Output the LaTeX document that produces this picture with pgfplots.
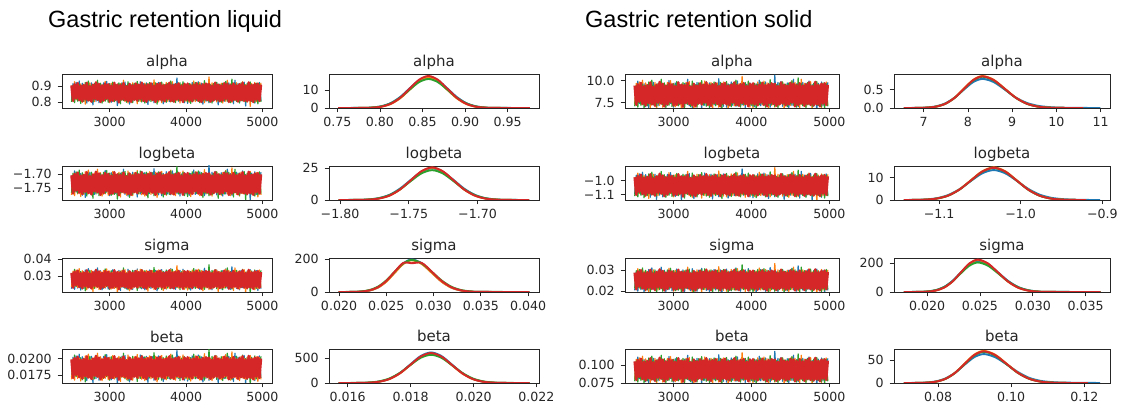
\documentclass[border=0pt]{standalone}
\usepackage{fontspec}
\setmainfont{DejaVu Sans}
\newfontfamily\headfont{Liberation Sans}
\usepackage{pgfplots}
\usepackage{pgfplotstable}
\pgfplotsset{compat=1.18}
\definecolor{tblue}{HTML}{1F77B4}
\definecolor{torange}{HTML}{FF7F0E}
\definecolor{tgreen}{HTML}{2CA02C}
\definecolor{tred}{HTML}{D62728}
\definecolor{axgray}{HTML}{262626}

% chain traces, in standard units (one table shared by the trace panels)
\pgfplotstableread{
x a b c d
2500 -2.1 1.8 -2.6 1.9
2520 2.4 -2.2 2.0 -2.3
2540 -1.9 2.9 -2.8 2.2
2560 2.7 -2.0 1.7 -1.6
2580 -2.2 2.5 -2.4 2.5
2600 3.1 -1.9 2.2 -2.1
2620 -1.8 2.3 -3.0 1.8
2640 2.5 -2.7 1.9 -2.4
2660 -2.3 2.1 -2.5 2.0
2680 2.0 -3.2 2.7 -1.9
2700 -2.9 2.4 -2.1 2.6
2720 2.2 -1.8 3.1 -2.2
2740 -1.7 2.6 -2.3 1.7
2760 2.6 -2.2 2.0 -2.5
2780 -3.4 2.0 -2.6 2.1
2800 2.1 -2.5 2.4 -1.8
2820 -2.4 2.8 -1.9 2.7
2840 1.9 -2.1 3.3 -2.0
2860 -2.8 2.3 -2.2 2.3
2880 2.3 -2.6 2.5 -2.6
2900 -2.0 1.9 -2.9 1.9
2920 2.6 -2.4 2.1 -2.2
2940 -2.2 3.0 -2.4 2.4
2960 3.0 -2.0 1.8 -1.7
2980 -1.9 2.2 -2.7 2.2
3000 2.4 -2.8 2.3 -2.4
3020 -2.7 2.5 -2.0 1.8
3040 2.1 -1.9 2.8 -2.3
3060 -2.5 2.7 -2.5 2.6
3080 1.8 -2.3 2.2 -2.0
3100 -3.6 2.0 -1.9 2.1
3120 2.3 -2.6 2.6 -2.7
3140 -2.2 2.4 -3.1 2.0
3160 2.6 -2.1 2.4 -1.9
3180 -1.9 3.3 -2.2 2.5
3200 2.8 -2.5 2.0 -2.1
3220 -2.1 1.8 -2.7 1.7
3240 2.4 -2.9 2.9 -2.4
3260 -3.2 2.2 -2.3 2.3
3280 2.0 -2.4 2.1 -2.6
3300 -2.5 2.6 -2.8 1.9
3320 2.2 -2.0 2.5 -2.0
3340 -1.8 2.3 -2.0 2.4
3360 2.7 -3.1 3.0 -2.2
3380 -2.3 2.1 -2.4 2.1
3400 2.9 -2.4 2.2 -1.8
3420 -2.1 2.8 -2.6 2.6
3440 2.4 -2.2 1.9 -2.3
3460 -2.0 2.5 -2.9 2.0
3480 2.6 -2.7 2.3 -2.5
3500 -3.3 1.9 -2.1 2.2
3520 2.2 -2.3 2.7 -1.9
3540 -1.9 2.6 -2.5 2.4
3560 2.5 -2.0 2.0 -2.1
3580 -2.8 3.4 -2.3 1.8
3600 2.1 -2.2 2.6 -2.6
3620 -2.3 2.4 -3.2 2.3
3640 2.7 -2.6 2.2 -2.0
3660 -2.0 2.1 -2.0 2.5
3680 2.4 -2.8 2.8 -2.2
3700 -3.1 2.3 -2.4 1.9
3720 1.8 -1.9 2.1 -2.4
3740 -2.6 2.7 -2.7 2.1
3760 2.2 -2.4 2.4 -1.8
3780 -2.5 2.0 -2.1 2.6
3800 2.9 -2.6 3.1 -2.3
3820 -2.1 2.9 -2.5 2.0
3840 2.3 -2.1 2.0 -2.5
3860 -1.9 2.4 -2.8 2.2
3880 3.9 -2.3 2.3 -1.9
3900 -2.4 2.6 -2.2 2.4
3920 2.0 -2.9 2.6 -2.1
3940 -2.2 2.2 -2.0 1.8
3960 2.6 -2.0 2.9 -2.6
3980 -2.8 2.5 -2.4 2.3
4000 2.1 -2.4 2.1 -2.0
4020 -3.0 2.1 -2.6 2.4
4040 2.4 -2.7 2.4 -2.2
4060 -2.2 2.3 -3.0 1.9
4080 2.7 -2.2 2.2 -2.4
4100 -1.8 3.1 -2.3 2.1
4120 2.6 -2.5 2.7 -1.8
4140 -2.3 2.0 -2.1 2.5
4160 2.9 -2.3 2.5 -2.3
4180 -2.0 2.7 -2.8 2.0
4200 2.5 -2.1 2.0 -2.6
4220 -3.2 2.4 -2.4 2.2
4240 2.1 -2.8 3.2 -1.9
4260 -2.4 2.2 -2.2 2.4
4280 2.2 -2.0 2.3 -2.1
4300 -2.8 4.2 -2.6 2.3
4320 1.9 -2.4 2.1 -2.5
4340 -2.6 2.6 -2.9 1.8
4360 2.3 -2.2 2.4 -2.2
4380 -2.0 2.8 -2.0 2.6
4400 2.7 -2.6 2.7 -2.0
4420 -3.4 2.1 -2.3 2.1
4440 2.2 -2.3 2.2 -2.4
4460 -2.5 2.5 -2.7 1.9
4480 2.1 -2.9 2.5 -2.2
4500 -2.4 2.0 -2.1 2.5
4520 2.9 -2.4 3.0 -1.8
4540 -1.8 3.3 -2.4 2.3
4560 2.6 -2.1 2.1 -2.6
4580 -2.3 2.3 -2.8 2.0
4600 2.0 -2.7 3.6 -2.3
4620 -3.1 2.2 -2.2 2.4
4640 3.3 -2.0 2.3 -2.0
4660 -2.2 2.6 -2.5 1.9
4680 2.4 -2.5 2.0 -2.5
4700 -2.7 2.4 -2.9 2.2
4720 2.1 -2.2 2.6 -2.1
4740 -2.0 2.9 -2.3 2.6
4760 2.8 -2.3 2.2 -2.3
4780 -3.7 2.1 -2.6 1.8
4800 2.3 -2.6 2.4 -2.4
4820 -2.1 2.0 -2.1 2.7
4840 2.5 -3.8 2.8 -2.2
4860 -2.4 2.4 -2.4 2.0
4880 2.0 -2.2 2.1 -2.6
4900 -2.9 2.7 -2.7 2.3
4920 2.2 -2.5 2.5 -2.0
4940 -2.6 2.3 -3.1 2.4
4960 2.7 -2.1 2.3 -2.3
4980 -2.3 2.6 -2.6 2.1
}\noise

% densities: x, blue, orange, green, red
\pgfplotstableread{
x b o g r
0.751 0 0 0 0
0.780 0.07 0.04 0.06 0.04
0.791 0.29 0.19 0.28 0.20
0.802 1.02 0.75 0.96 0.79
0.813 2.84 2.30 2.66 2.44
0.824 6.27 5.52 5.88 5.84
0.835 11.06 10.31 10.36 10.92
0.846 15.53 15.00 14.55 15.89
0.857 17.4 17.0 16.3 18.0
0.868 15.53 15.00 14.55 15.89
0.879 11.06 10.31 10.36 10.92
0.890 6.27 5.52 5.88 5.84
0.901 2.84 2.30 2.66 2.44
0.912 1.02 0.75 0.96 0.79
0.923 0.29 0.19 0.28 0.20
0.934 0.07 0.04 0.06 0.04
0.976 0 0 0 0
}\dA
\pgfplotstableread{
x b o g r
-1.801 0 0 0 0
-1.7873 0.10 0.06 0.09 0.06
-1.7795 0.42 0.28 0.40 0.29
-1.7718 1.47 1.12 1.38 1.13
-1.7640 4.08 3.45 3.83 3.48
-1.7563 9.02 8.28 8.47 8.34
-1.7485 15.89 15.47 14.93 15.59
-1.7408 22.32 22.50 20.98 22.68
-1.7330 25.0 25.5 23.5 25.7
-1.7253 22.32 22.50 20.98 22.68
-1.7175 15.89 15.47 14.93 15.59
-1.7098 9.02 8.28 8.47 8.34
-1.7020 4.08 3.45 3.83 3.48
-1.6943 1.47 1.12 1.38 1.13
-1.6865 0.42 0.28 0.40 0.29
-1.6788 0.10 0.06 0.09 0.06
-1.6624 0 0 0 0
}\dB
\pgfplotstableread{
x b o g r
0.01995 0 0 0 0
0.0214 0.44 0.43 0.76 0.5
0.0223 2.21 2.15 3.31 2.5
0.0232 8.74 8.52 11.5 9.5
0.0241 26.9 26.2 31.9 29
0.0250 64.6 63.0 70.7 68
0.0259 120.7 117.7 124.6 125
0.0268 175.6 171.2 174.9 178
0.0277 199 194 196 176
0.02875 175.6 171.2 174.9 178
0.0298 120.7 117.7 124.6 125
0.03085 64.6 63.0 70.7 68
0.0319 26.9 26.2 31.9 29
0.03295 8.74 8.52 11.5 9.5
0.0340 2.21 2.15 3.31 2.5
0.03505 0.44 0.43 0.76 0.5
0.04015 0 0 0 0
}\dC
\pgfplotstableread{
x b o g r
0.01571 0 0 0 0
0.01634 1.3 1.3 2.2 1.3
0.01667 6.8 6.5 9.5 6.7
0.01700 26.9 25.9 33.3 26.3
0.01733 82.8 79.8 92.1 81.2
0.01766 198.7 191.6 203.7 194.8
0.01799 371.2 357.8 359.1 363.9
0.01832 540.1 520.7 504.3 529.5
0.01865 612 590 565 600
0.01898 540.1 520.7 504.3 529.5
0.01931 371.2 357.8 359.1 363.9
0.01964 198.7 191.6 203.7 194.8
0.01997 82.8 79.8 92.1 81.2
0.02030 26.9 25.9 33.3 26.3
0.02063 6.8 6.5 9.5 6.7
0.02096 1.3 1.3 2.2 1.3
0.02178 0 0 0 0
}\dD
\pgfplotstableread{
x b o g r
6.55 0 0 0 0
6.86 0.003 0.002 0.002 0.002
7.07 0.014 0.010 0.010 0.010
7.28 0.047 0.039 0.038 0.038
7.49 0.130 0.119 0.116 0.118
7.70 0.288 0.286 0.279 0.282
7.91 0.508 0.534 0.522 0.528
8.12 0.714 0.777 0.759 0.768
8.33 0.80 0.88 0.86 0.87
8.58 0.714 0.777 0.759 0.768
8.83 0.508 0.534 0.522 0.528
9.08 0.288 0.286 0.279 0.282
9.33 0.140 0.119 0.116 0.118
9.58 0.060 0.039 0.038 0.038
9.83 0.025 0.010 0.010 0.010
10.08 0.010 0.002 0.002 0.002
10.60 0.002 0 0 0
10.99 0 nan nan nan
}\dE
\pgfplotstableread{
x b o g r
-1.1432 0 0 0 0
-1.131 0.05 0.03 0.03 0.03
-1.117 0.22 0.16 0.16 0.16
-1.103 0.78 0.64 0.62 0.63
-1.089 2.17 1.96 1.92 1.93
-1.075 4.80 4.71 4.61 4.64
-1.061 8.45 8.79 8.61 8.67
-1.047 11.87 12.80 12.53 12.62
-1.033 13.3 14.5 14.2 14.3
-1.019 11.87 12.80 12.53 12.62
-1.005 8.60 8.79 8.61 8.67
-0.991 5.00 4.71 4.61 4.64
-0.977 2.40 1.96 1.92 1.93
-0.963 1.00 0.64 0.62 0.63
-0.949 0.40 0.16 0.16 0.16
-0.935 0.15 0.03 0.03 0.03
-0.920 0.03 0 0 0
-0.9026 0 nan nan nan
}\dF
\pgfplotstableread{
x b o g r
0.0178 0 0 0 0
0.0192 0.84 0.49 0.80 0.50
0.0200 3.63 2.46 3.46 2.50
0.0208 12.7 9.75 12.1 9.88
0.0216 35.0 30.0 33.4 30.4
0.0224 77.5 72.1 73.9 73.1
0.0232 136.6 134.6 130.3 136.5
0.0240 191.9 195.9 183.0 198.6
0.0248 215 222 205 225
0.02575 191.9 195.9 183.0 198.6
0.0267 136.6 134.6 130.3 136.5
0.02765 77.5 72.1 73.9 73.1
0.0286 35.0 30.0 33.4 30.4
0.02955 12.7 9.75 12.1 9.88
0.0305 3.63 2.46 3.46 2.50
0.03145 0.84 0.49 0.80 0.50
0.0364 0 0 0 0
}\dG
\pgfplotstableread{
x b o g r
0.07064 0 0 0 0
0.0743 0.25 0.16 0.15 0.15
0.0769 1.08 0.79 0.77 0.78
0.0795 3.77 3.12 3.03 3.07
0.0821 10.4 9.61 9.34 9.47
0.0847 23.1 23.1 22.4 22.7
0.0873 40.7 43.1 41.8 42.5
0.0899 57.1 62.7 60.9 61.8
0.0925 64 71 69 70
0.0956 57.1 62.7 60.9 61.8
0.0987 41.5 43.1 41.8 42.5
0.1018 24.5 23.1 22.4 22.7
0.1049 11.5 9.61 9.34 9.47
0.1080 4.8 3.12 3.03 3.07
0.1111 2.0 0.79 0.77 0.78
0.1142 0.9 0.16 0.15 0.15
0.1210 0.3 0 0 0
0.12435 0 nan nan nan
}\dH

\pgfplotsset{
  panel/.style={
    scale only axis, height=34pt,
    axis line style={axgray, line width=0.8pt},
    tick align=outside, tick pos=left,
    major tick length=4.4pt,
    tick style={axgray, line width=0.8pt},
    tick label style={font=\fontsize{12.6}{14}\selectfont, text=axgray},
    yticklabel style={xshift=-2.5pt},
    xticklabel style={yshift=-1.5pt},
    every axis title/.style={font=\fontsize{15}{17}\selectfont, text=axgray, at={(0.5,1)}, anchor=base, yshift=7pt, inner sep=0pt},
    scaled ticks=false, clip=true,
  },
  tr/.style={panel, xmin=2375, xmax=5125, xtick={3000,4000,5000}, xticklabels={3000,4000,5000},
    every axis plot/.append style={line width=1.2pt, line join=round}},
  de/.style={panel, ymin=0, every axis plot/.append style={line width=1.9pt, smooth, tension=0.5}},
}
\newcommand{\traces}[6]{%
  \addplot[tblue] table[x=x, y expr=#1+#2*\thisrow{#3}] {\noise};
  \addplot[torange] table[x=x, y expr=#1+#2*\thisrow{#4}] {\noise};
  \addplot[tgreen] table[x=x, y expr=#1+#2*\thisrow{#5}] {\noise};
  \addplot[tred, line width=2.6pt] table[x=x, y expr=#1+#2*\thisrow{#6}] {\noise};
}
\newcommand{\dens}[1]{%
  \addplot[tblue] table[x=x, y=b] {#1};
  \addplot[torange] table[x=x, y=o] {#1};
  \addplot[tgreen] table[x=x, y=g] {#1};
  \addplot[tred] table[x=x, y=r] {#1};
}

\begin{document}
\begin{tikzpicture}
\useasboundingbox (0,0) rectangle (1121pt,409pt);
\node[anchor=base west, font=\headfont\fontsize{23.5}{26}\selectfont, inner sep=0pt] at (48pt,381pt) {Gastric retention liquid};
\node[anchor=base west, font=\headfont\fontsize{23.5}{26}\selectfont, inner sep=0pt] at (585pt,381pt) {Gastric retention solid};

% ---------- liquid ----------
\begin{axis}[tr, at={(62pt,301pt)}, width=210pt, title={alpha},
  ymin=0.7625, ymax=0.975, ytick={0.8,0.9}, yticklabels={0.8,0.9}]
\traces{0.86}{0.023}{a}{b}{c}{d}
\end{axis}
\begin{axis}[de, at={(329pt,301pt)}, width=210pt, title={alpha},
  xmin=0.7402, xmax=0.9868, ymax=19.1,
  xtick={0.75,0.8,0.85,0.9,0.95}, xticklabels={0.75,0.80,0.85,0.90,0.95},
  ytick={0,10}, yticklabels={0,10}]
\dens{\dA}
\end{axis}

\begin{axis}[tr, at={(62pt,209pt)}, width=210pt, title={logbeta},
  ymin=-1.7918, ymax=-1.6704, ytick={-1.75,-1.70}, yticklabels={−1.75,−1.70}]
\traces{-1.733}{0.0155}{b}{c}{a}{d}
\end{axis}
\begin{axis}[de, at={(329pt,209pt)}, width=210pt, title={logbeta},
  xmin=-1.808, xmax=-1.6553, ymax=26.8,
  xtick={-1.80,-1.75,-1.70}, xticklabels={−1.80,−1.75,−1.70},
  ytick={0,25}, yticklabels={0,25}]
\dens{\dB}
\end{axis}

\begin{axis}[tr, at={(62pt,117pt)}, width=210pt, title={sigma},
  ymin=0.0206, ymax=0.0408, ytick={0.03,0.04}, yticklabels={0.03,0.04}]
\traces{0.0280}{0.0021}{c}{a}{b}{d}
\end{axis}
\begin{axis}[de, at={(329pt,117pt)}, width=210pt, title={sigma},
  xmin=0.01894, xmax=0.04116, ymax=208,
  xtick={0.02,0.025,0.03,0.035,0.04}, xticklabels={0.020,0.025,0.030,0.035,0.040},
  ytick={0,200}, yticklabels={0,200}]
\dens{\dC}
\end{axis}

\begin{axis}[tr, at={(62pt,26pt)}, width=210pt, title={beta},
  ymin=0.01626, ymax=0.0215, ytick={0.0175,0.02}, yticklabels={0.0175,0.0200}]
\traces{0.0186}{0.00068}{a}{c}{b}{d}
\end{axis}
\begin{axis}[de, at={(329pt,26pt)}, width=210pt, title={beta},
  xmin=0.015407, xmax=0.02208, ymax=681,
  xtick={0.016,0.018,0.02,0.022}, xticklabels={0.016,0.018,0.020,0.022},
  ytick={0,500}, yticklabels={0,500}]
\dens{\dD}
\end{axis}

% ---------- solid ----------
\begin{axis}[tr, at={(625pt,301pt)}, width=214pt, title={alpha},
  ymin=6.9, ymax=10.76, ytick={7.5,10}, yticklabels={7.5,10.0}]
\traces{8.45}{0.52}{b}{a}{c}{d}
\end{axis}
\begin{axis}[de, at={(894pt,301pt)}, width=216pt, title={alpha},
  xmin=6.328, xmax=11.21, ymax=0.935,
  xtick={7,8,9,10,11}, xticklabels={7,8,9,10,11},
  ytick={0,0.5}, yticklabels={0.0,0.5}]
\dens{\dE}
\end{axis}

\begin{axis}[tr, at={(625pt,209pt)}, width=214pt, title={logbeta},
  ymin=-1.1357, ymax=-0.90, ytick={-1.1,-1.0}, yticklabels={−1.1,−1.0}]
\traces{-1.033}{0.029}{a}{b}{c}{d}
\end{axis}
\begin{axis}[de, at={(894pt,209pt)}, width=216pt, title={logbeta},
  xmin=-1.1552, xmax=-0.8906, ymax=15.1,
  xtick={-1.1,-1.0,-0.9}, xticklabels={−1.1,−1.0,−0.9},
  ytick={0,10}, yticklabels={0,10}]
\dens{\dF}
\end{axis}

\begin{axis}[tr, at={(625pt,117pt)}, width=214pt, title={sigma},
  ymin=0.0195, ymax=0.03585, ytick={0.02,0.03}, yticklabels={0.02,0.03}]
\traces{0.0252}{0.0019}{c}{b}{a}{d}
\end{axis}
\begin{axis}[de, at={(894pt,117pt)}, width=216pt, title={sigma},
  xmin=0.01687, xmax=0.0373, ymax=236,
  xtick={0.02,0.025,0.03,0.035}, xticklabels={0.020,0.025,0.030,0.035},
  ytick={0,200}, yticklabels={0,200}]
\dens{\dG}
\end{axis}

\begin{axis}[tr, at={(625pt,26pt)}, width=214pt, title={beta},
  ymin=0.0749, ymax=0.1228, ytick={0.075,0.1}, yticklabels={0.075,0.100}]
\traces{0.0935}{0.0062}{b}{a}{c}{d}
\end{axis}
\begin{axis}[de, at={(894pt,26pt)}, width=216pt, title={beta},
  xmin=0.06795, xmax=0.12704, ymax=75.2,
  xtick={0.08,0.1,0.12}, xticklabels={0.08,0.10,0.12},
  ytick={0,50}, yticklabels={0,50}]
\dens{\dH}
\end{axis}
\end{tikzpicture}
\end{document}
